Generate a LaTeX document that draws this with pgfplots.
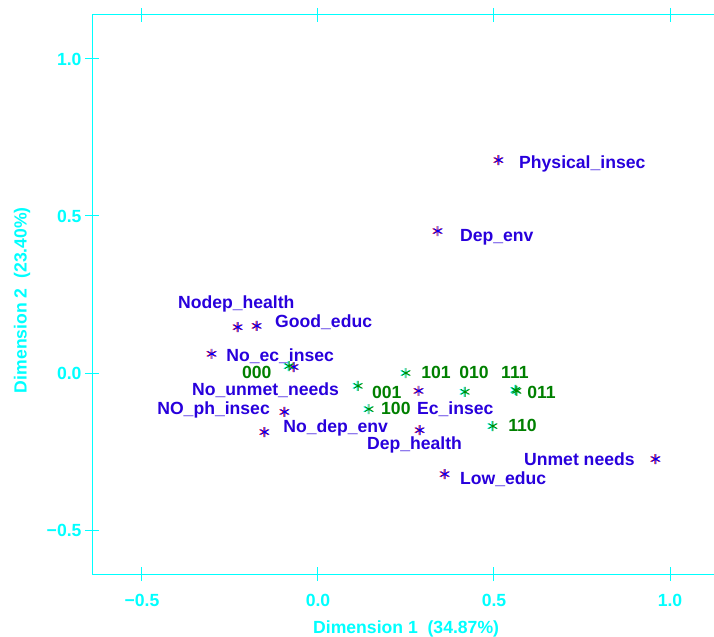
\documentclass[border=0pt]{standalone}
\usepackage{fontspec}
\setmainfont{Liberation Sans}
\usepackage{pgfplots}
\usepackage{pgfplotstable}
\pgfplotsset{compat=1.18}
\definecolor{axcyan}{RGB}{0,255,255}
\definecolor{lblblue}{RGB}{40,0,220}
\definecolor{lblgreen}{RGB}{0,128,0}
\definecolor{starred}{RGB}{255,0,0}
\definecolor{starblue}{RGB}{0,0,255}
\definecolor{stargreen}{RGB}{0,140,0}
\definecolor{starcyan}{RGB}{0,255,255}

\pgfplotstableread{
x y
0.514 0.678
0.341 0.452
-0.227 0.146
-0.173 0.150
-0.301 0.061
-0.068 0.019
-0.094 -0.124
-0.151 -0.188
0.287 -0.057
0.290 -0.182
0.960 -0.274
0.361 -0.322
}\vartable

\pgfplotstableread{
x y
-0.082 0.022
0.114 -0.041
0.145 -0.115
0.250 0.000
0.418 -0.060
0.565 -0.057
0.562 -0.054
0.497 -0.169
}\combtable

\newcommand{\lf}{\fontsize{17.6bp}{20bp}\selectfont\bfseries}

\begin{document}
\begin{tikzpicture}
\path[use as bounding box] (0,0) rectangle (714bp,637bp);
\begin{axis}[
  at={(92bp,63bp)}, anchor=south west,
  scale only axis, width=622bp, height=559bp,
  xmin=-0.642, xmax=1.125, ymin=-0.640, ymax=1.140,
  axis x line*=box, axis y line*=left,
  axis line style={axcyan, line width=1bp},
  xtick={-0.5,0,0.5,1}, xticklabels={−0.5,0.0,0.5,1.0},
  ytick={-0.5,0,0.5,1}, yticklabels={−0.5,0.0,0.5,1.0},
  xtick pos=both, ytick pos=left, xticklabel pos=lower,
  tick align=center, major tick length=14bp,
  every tick/.style={axcyan, line width=1bp},
  tick label style={font=\lf, text=axcyan},
  xticklabel style={yshift=-10bp},
  xlabel={Dimension 1\ \ (34.87\%)},
  ylabel={Dimension 2\ \ (23.40\%)},
  every axis x label/.style={at={(axis description cs:0.505,0)}, anchor=center, yshift=-55bp, font=\lf, text=axcyan},
  every axis y label/.style={at={(axis description cs:0,0.49)}, anchor=center, rotate=90, yshift=70bp, font=\lf, text=axcyan},
  clip=false,
]
\addplot[only marks, mark=asterisk, mark size=5bp, starred, line width=0.9bp, mark options={xshift=-1bp}] table[x=x,y=y] {\vartable};
\addplot[only marks, mark=asterisk, mark size=5bp, starblue, line width=0.9bp] table[x=x,y=y] {\vartable};
\addplot[only marks, mark=asterisk, mark size=5bp, starcyan, line width=0.9bp, mark options={xshift=-1bp}] table[x=x,y=y] {\combtable};
\addplot[only marks, mark=asterisk, mark size=5bp, stargreen, line width=0.9bp] table[x=x,y=y] {\combtable};

\begin{scope}[every node/.style={anchor=base west, inner sep=0pt, font=\lf}]
\node[lblblue] at (axis cs:0.571,0.650) {Physical\_insec};
\node[lblblue] at (axis cs:0.403,0.420) {Dep\_env};
\node[lblblue] at (axis cs:-0.398,0.204) {Nodep\_health};
\node[lblblue] at (axis cs:-0.122,0.146) {Good\_educ};
\node[lblblue] at (axis cs:-0.261,0.038) {No\_ec\_insec};
\node[lblblue] at (axis cs:-0.358,-0.073) {No\_unmet\_needs};
\node[lblblue] at (axis cs:-0.457,-0.131) {NO\_ph\_insec};
\node[lblblue] at (axis cs:-0.099,-0.188) {No\_dep\_env};
\node[lblblue] at (axis cs:0.139,-0.242) {Dep\_health};
\node[lblblue] at (axis cs:0.281,-0.131) {Ec\_insec};
\node[lblblue] at (axis cs:0.585,-0.296) {Unmet needs};
\node[lblblue] at (axis cs:0.403,-0.354) {Low\_educ};
\node[lblgreen] at (axis cs:-0.216,-0.019) {000};
\node[lblgreen] at (axis cs:0.153,-0.080) {001};
\node[lblgreen] at (axis cs:0.179,-0.131) {100};
\node[lblgreen] at (axis cs:0.293,-0.019) {101};
\node[lblgreen] at (axis cs:0.401,-0.019) {010};
\node[lblgreen] at (axis cs:0.520,-0.019) {111};
\node[lblgreen] at (axis cs:0.594,-0.080) {011};
\node[lblgreen] at (axis cs:0.540,-0.185) {110};
\end{scope}
\end{axis}
\end{tikzpicture}
\end{document}
